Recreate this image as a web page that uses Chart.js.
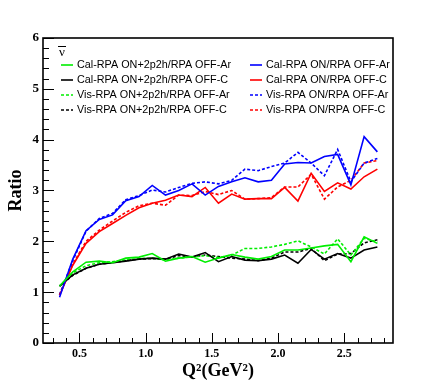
<!DOCTYPE html>
<html>
<head>
<meta charset="utf-8">
<script src="https://cdn.jsdelivr.net/npm/chart.js@4"></script>
<style>
  html, body { margin: 0; padding: 0; background: #fff; }
  canvas { display: block; }
</style>
</head>
<body>
<canvas id="ratio" width="436" height="382"></canvas>
<script>
// Q^2 bin centres (GeV^2)
const q2 = [0.35, 0.45, 0.55, 0.65, 0.75, 0.85, 0.95, 1.05, 1.15, 1.25, 1.35, 1.45, 1.55,
            1.65, 1.75, 1.85, 1.95, 2.05, 2.15, 2.25, 2.35, 2.45, 2.55, 2.65, 2.75];

const calMecAr = [1.12, 1.40, 1.59, 1.61, 1.58, 1.67, 1.69, 1.76, 1.61, 1.67, 1.70, 1.59, 1.67,
                  1.74, 1.69, 1.65, 1.70, 1.83, 1.83, 1.87, 1.91, 1.94, 1.60, 2.09, 1.96];
const calMecC  = [1.12, 1.34, 1.47, 1.55, 1.58, 1.61, 1.65, 1.67, 1.65, 1.75, 1.69, 1.78, 1.60,
                  1.70, 1.63, 1.62, 1.65, 1.73, 1.57, 1.84, 1.65, 1.76, 1.67, 1.83, 1.89];
const visMecAr = [1.12, 1.38, 1.52, 1.58, 1.60, 1.64, 1.66, 1.67, 1.63, 1.67, 1.69, 1.72, 1.68,
                  1.73, 1.86, 1.86, 1.89, 1.94, 2.01, 1.89, 1.75, 2.05, 1.73, 2.06, 1.99];
const visMecC  = [1.12, 1.33, 1.47, 1.55, 1.58, 1.62, 1.65, 1.66, 1.65, 1.72, 1.69, 1.73, 1.70,
                  1.67, 1.65, 1.62, 1.67, 1.79, 1.79, 1.86, 1.62, 1.75, 1.76, 1.97, 2.03];

const calAr = [0.90, 1.65, 2.21, 2.43, 2.52, 2.80, 2.88, 3.10, 2.91, 3.00, 3.13, 2.91, 3.08,
               3.17, 3.25, 3.17, 3.20, 3.52, 3.55, 3.54, 3.67, 3.71, 3.11, 4.06, 3.76];
const calC  = [0.94, 1.53, 1.96, 2.19, 2.35, 2.51, 2.66, 2.75, 2.81, 2.91, 2.88, 3.06, 2.75,
               2.93, 2.83, 2.84, 2.84, 3.06, 2.79, 3.34, 2.98, 3.15, 3.03, 3.27, 3.42];
const visAr = [0.95, 1.62, 2.20, 2.45, 2.55, 2.82, 2.90, 3.01, 2.97, 3.06, 3.14, 3.17, 3.13,
               3.20, 3.42, 3.39, 3.47, 3.54, 3.75, 3.54, 3.29, 3.81, 3.17, 3.54, 3.63];
const visC  = [0.95, 1.55, 2.00, 2.22, 2.40, 2.57, 2.70, 2.75, 2.71, 2.91, 2.90, 2.98, 2.92,
               3.00, 2.83, 2.84, 2.86, 3.07, 3.07, 3.32, 2.83, 3.07, 3.20, 3.54, 3.59];

const xTicks = [0.5, 1, 1.5, 2, 2.5];
const yTicks = [0, 1, 2, 3, 4, 5, 6];

const pts = arr => arr.map((v, i) => ({x: q2[i], y: v}));
const dash = [3, 2];

// legend order: left column then right column, row by row
const series = [
  {label: 'Cal-RPA ON+2p2h/RPA OFF-Ar', data: calMecAr, color: '#00ee00', dashed: false},
  {label: 'Cal-RPA ON/RPA OFF-Ar',      data: calAr,    color: '#0000ff', dashed: false},
  {label: 'Cal-RPA ON+2p2h/RPA OFF-C',  data: calMecC,  color: '#000000', dashed: false},
  {label: 'Cal-RPA ON/RPA OFF-C',       data: calC,     color: '#ff0000', dashed: false},
  {label: 'Vis-RPA ON+2p2h/RPA OFF-Ar', data: visMecAr, color: '#00ee00', dashed: true},
  {label: 'Vis-RPA ON/RPA OFF-Ar',      data: visAr,    color: '#0000ff', dashed: true},
  {label: 'Vis-RPA ON+2p2h/RPA OFF-C',  data: visMecC,  color: '#000000', dashed: true},
  {label: 'Vis-RPA ON/RPA OFF-C',       data: visC,     color: '#ff0000', dashed: true},
];

// ROOT style frame, inward ticks, legend box
const rootFrame = {
  id: 'rootFrame',
  afterDraw(chart) {
    const {ctx, chartArea: a, scales: {x, y}} = chart;
    ctx.save();
    ctx.strokeStyle = '#000';
    ctx.lineWidth = 1;
    // y ticks
    for (let v = 0; v <= 6.001; v += 0.2) {
      const py = Math.round(y.getPixelForValue(v)) + 0.5;
      const major = Math.abs(v - Math.round(v)) < 0.01;
      ctx.beginPath();
      ctx.moveTo(a.left, py);
      ctx.lineTo(a.left + (major ? 11 : 6), py);
      ctx.stroke();
    }
    // x ticks
    for (let v = 0.3; v <= 2.85; v += 0.1) {
      const px = Math.round(x.getPixelForValue(v)) + 0.5;
      const major = Math.abs(v * 2 - Math.round(v * 2)) < 0.01;
      ctx.beginPath();
      ctx.moveTo(px, a.bottom);
      ctx.lineTo(px, a.bottom - (major ? 10 : 5));
      ctx.stroke();
    }
    ctx.lineWidth = 1.6;
    ctx.strokeRect(a.left, a.top, a.right - a.left, a.bottom - a.top);

    // anti-neutrino symbol
    ctx.fillStyle = '#000';
    ctx.font = '13px "Liberation Serif"';
    ctx.textAlign = 'center';
    ctx.textBaseline = 'middle';
    ctx.fillText('\u03BD', a.left + 19, a.top + 15);
    ctx.lineWidth = 1;
    ctx.beginPath();
    ctx.moveTo(a.left + 15, a.top + 8.5);
    ctx.lineTo(a.left + 23, a.top + 8.5);
    ctx.stroke();

    // legend entries
    ctx.font = '10.8px "Liberation Sans"';
    ctx.textAlign = 'left';
    chart.data.datasets.forEach((ds, i) => {
      const col = i % 2, row = Math.floor(i / 2);
      const lx = a.left + (col ? 207 : 18);
      const ly = a.top + 27 + row * 15;
      ctx.strokeStyle = ds.borderColor;
      ctx.lineWidth = 1.6;
      ctx.setLineDash(ds.borderDash || []);
      ctx.beginPath();
      ctx.moveTo(lx, ly);
      ctx.lineTo(lx + 12, ly);
      ctx.stroke();
      ctx.setLineDash([]);
      ctx.fillStyle = '#000';
      ctx.fillText(ds.label, lx + 16, ly + 0.5);
    });
    ctx.restore();
  }
};

new Chart(document.getElementById('ratio'), {
  type: 'line',
  data: {
    datasets: series.map(s => ({
      label: s.label,
      data: pts(s.data),
      borderColor: s.color,
      backgroundColor: s.color,
      borderWidth: 1.6,
      borderDash: s.dashed ? dash : [],
      pointRadius: 0,
      tension: 0,
      fill: false,
    })),
  },
  options: {
    responsive: false,
    animation: false,
    layout: {padding: {top: 38, right: 43, left: 0, bottom: 0}},
    scales: {
      x: {
        type: 'linear',
        min: 0.225,
        max: 2.868,
        afterBuildTicks: scale => { scale.ticks = xTicks.map(v => ({value: v})); },
        afterFit: scale => { scale.height = 39; },
        grid: {display: false, drawTicks: false},
        border: {display: false},
        ticks: {
          color: '#000',
          padding: 4,
          maxRotation: 0,
          font: {family: '"Liberation Serif"', weight: 'bold', size: 12},
        },
        title: {
          display: true,
          text: 'Q\u00B2(GeV\u00B2)',
          color: '#000',
          padding: {top: 0, bottom: 0},
          font: {family: '"Liberation Serif"', weight: 'bold', size: 18},
        },
      },
      y: {
        min: 0,
        max: 6,
        afterBuildTicks: scale => { scale.ticks = yTicks.map(v => ({value: v})); },
        afterFit: scale => { scale.width = 43; },
        grid: {display: false, drawTicks: false},
        border: {display: false},
        ticks: {
          color: '#000',
          padding: 4,
          font: {family: '"Liberation Serif"', weight: 'bold', size: 13},
        },
        title: {
          display: true,
          text: 'Ratio',
          color: '#000',
          padding: {top: 6, bottom: 0},
          font: {family: '"Liberation Serif"', weight: 'bold', size: 18},
        },
      },
    },
    plugins: {
      legend: {display: false},
      tooltip: {enabled: false},
    },
  },
  plugins: [rootFrame],
});
</script>
</body>
</html>
